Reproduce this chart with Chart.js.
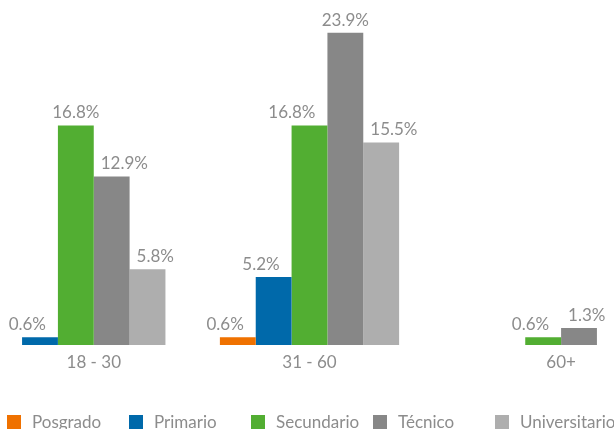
<!DOCTYPE html>
<html>
<head>
<meta charset="utf-8">
<script src="https://cdn.jsdelivr.net/npm/chart.js@4"></script>
<style>
  html, body { margin: 0; padding: 0; background: #fff; overflow: hidden; width: 614px; height: 429px; }
  /* plot runs past both sides of the window, as in the original */
  #wrap { width: 701px; height: 429px; position: relative; margin-left: -41px; }
</style>
</head>
<body>
<div id="wrap"><canvas id="ageChart"></canvas></div>
<script>
// Age groups and share per education level (%)
const categories = ['18 - 30', '31 - 60', '60+'];
const posgrado = [null, 0.6, null];
const primario = [0.6, 5.2, null];
const secundario = [16.8, 16.8, 0.6];
const tecnico = [12.9, 23.9, 1.3];
const universitario = [5.8, 15.5, null];

const seriesNames = ['Posgrado', 'Primario', 'Secundario', 'Técnico', 'Universitario'];
const seriesColors = ['#ef7100', '#0069aa', '#52ae32', '#878787', '#aeaeae'];
const textColor = '#8c8c8c';
const fontFamily = 'Lato, "Open Sans", sans-serif';
const shiftLeft = 41; // canvas is moved left by this much

// Value labels above bars, nudged away from taller neighbours
const valueLabels = {
  id: 'valueLabels',
  afterDatasetsDraw(chart) {
    const ctx = chart.ctx;
    ctx.save();
    ctx.font = '17px ' + fontFamily;
    ctx.fillStyle = textColor;
    ctx.textBaseline = 'alphabetic';
    chart.data.labels.forEach((lab, i) => {
      const items = [];
      chart.data.datasets.forEach((ds, d) => {
        if (ds.data[i] === null) return;
        items.push({ v: ds.data[i], bar: chart.getDatasetMeta(d).data[i] });
      });
      items.forEach((it, k) => {
        const left = k > 0 ? items[k - 1].v : null;
        const right = k < items.length - 1 ? items[k + 1].v : null;
        const bar = it.bar;
        let x = bar.x;
        ctx.textAlign = 'center';
        if (right !== null && right > it.v) {
          ctx.textAlign = 'right';
          x = bar.x + 6;
        } else if (left !== null && (left > it.v || right === null)) {
          ctx.textAlign = 'left';
          x = bar.x - bar.width / 2 + 7;
        }
        ctx.fillText(it.v.toFixed(1) + '%', x, bar.y - 7);
      });
    });
    ctx.restore();
  }
};

// Category labels centred under the bars that are drawn
const groupLabels = {
  id: 'groupLabels',
  afterDraw(chart) {
    const ctx = chart.ctx;
    ctx.save();
    ctx.font = '17px ' + fontFamily;
    ctx.fillStyle = textColor;
    ctx.textAlign = 'center';
    chart.data.labels.forEach((lab, i) => {
      let lo = Infinity, hi = -Infinity;
      chart.data.datasets.forEach((ds, d) => {
        if (ds.data[i] === null) return;
        const bar = chart.getDatasetMeta(d).data[i];
        lo = Math.min(lo, bar.x - bar.width / 2);
        hi = Math.max(hi, bar.x + bar.width / 2);
      });
      ctx.fillText(lab, (lo + hi) / 2, chart.chartArea.bottom + 23);
    });
    ctx.restore();
  }
};

// Legend in evenly spaced columns along the bottom
const bottomLegend = {
  id: 'bottomLegend',
  afterDraw(chart) {
    const ctx = chart.ctx;
    ctx.save();
    ctx.font = '17px ' + fontFamily;
    ctx.textAlign = 'left';
    chart.data.datasets.forEach((ds, d) => {
      const x = shiftLeft + 7 + d * 122;
      ctx.fillStyle = ds.backgroundColor;
      ctx.fillRect(x, 415, 14, 14);
      ctx.fillStyle = textColor;
      ctx.fillText(ds.label, x + 25, 428);
    });
    ctx.restore();
  }
};

const seriesData = [posgrado, primario, secundario, tecnico, universitario];

new Chart(document.getElementById('ageChart'), {
  type: 'bar',
  data: {
    labels: categories,
    datasets: seriesData.map((vals, i) => ({
      label: seriesNames[i],
      data: vals,
      backgroundColor: seriesColors[i],
      borderWidth: 0
    }))
  },
  options: {
    responsive: true,
    maintainAspectRatio: false,
    animation: false,
    barPercentage: 1,
    categoryPercentage: 0.767,
    layout: { padding: { left: 0, right: 0, top: 0, bottom: 84 } },
    plugins: {
      legend: { display: false },
      tooltip: { enabled: false }
    },
    scales: {
      x: { display: false },
      y: { display: false, min: 0, max: 26.4 }
    }
  },
  plugins: [valueLabels, groupLabels, bottomLegend]
});
</script>
</body>
</html>
